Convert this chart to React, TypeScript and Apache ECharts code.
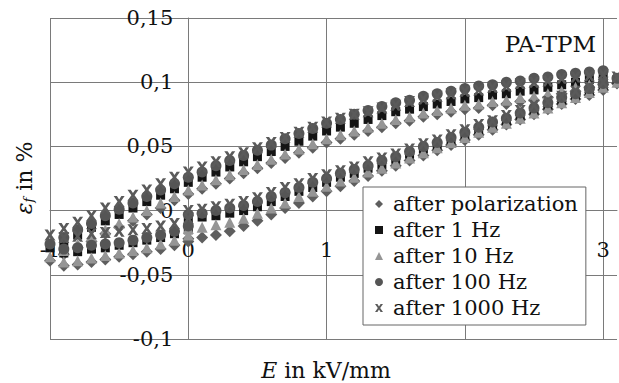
import React, { useEffect, useRef } from "react";
import * as echarts from "echarts";

// Electric field E in kV/mm for the three branches of each loop
const E_RISE = [0, 0.1, 0.2, 0.3, 0.4, 0.5, 0.6, 0.7, 0.8, 0.9, 1.0, 1.1, 1.2, 1.3, 1.4, 1.5, 1.6, 1.7, 1.8, 1.9, 2.0, 2.1, 2.2, 2.3, 2.4, 2.5, 2.6, 2.7, 2.8, 2.9, 3.0, 3.1];
const E_FALL = [3.0, 2.9, 2.8, 2.7, 2.6, 2.5, 2.4, 2.3, 2.2, 2.1, 2.0, 1.9, 1.8, 1.7, 1.6, 1.5, 1.4, 1.3, 1.2, 1.1, 1.0, 0.9, 0.8, 0.7, 0.6, 0.5, 0.4, 0.3, 0.2, 0.1, 0.0, -0.1, -0.2, -0.3, -0.4, -0.5, -0.6, -0.7, -0.8, -0.9, -1.0];
const E_RETURN = [-0.9, -0.8, -0.7, -0.6, -0.5, -0.4, -0.3, -0.2, -0.1, 0.0];

// after polarization (diamonds)
const POL_RISE = [-0.022, -0.021, -0.019, -0.016, -0.012, -0.008, -0.003, 0.002, 0.006, 0.011, 0.015, 0.019, 0.023, 0.027, 0.031, 0.035, 0.039, 0.043, 0.047, 0.051, 0.055, 0.059, 0.063, 0.067, 0.071, 0.075, 0.079, 0.083, 0.087, 0.090, 0.094, 0.099];
const POL_FALL = [0.098, 0.096, 0.093, 0.091, 0.088, 0.086, 0.085, 0.083, 0.082, 0.080, 0.079, 0.077, 0.075, 0.073, 0.070, 0.068, 0.065, 0.062, 0.059, 0.056, 0.053, 0.049, 0.045, 0.041, 0.037, 0.033, 0.029, 0.025, 0.021, 0.017, 0.013, 0.008, 0.002, -0.003, -0.008, -0.013, -0.018, -0.024, -0.029, -0.034, -0.039];
const POL_RETURN = [-0.043, -0.042, -0.040, -0.038, -0.036, -0.034, -0.032, -0.030, -0.027, -0.024];

// after 1 Hz (squares)
const HZ1_RISE = [-0.006, -0.005, -0.004, -0.002, 0.000, 0.003, 0.007, 0.011, 0.015, 0.018, 0.022, 0.026, 0.029, 0.033, 0.036, 0.040, 0.044, 0.048, 0.051, 0.055, 0.059, 0.063, 0.067, 0.070, 0.074, 0.078, 0.082, 0.086, 0.089, 0.093, 0.097, 0.102];
const HZ1_FALL = [0.104, 0.102, 0.100, 0.098, 0.096, 0.094, 0.093, 0.091, 0.090, 0.088, 0.087, 0.085, 0.083, 0.081, 0.079, 0.077, 0.074, 0.071, 0.068, 0.065, 0.062, 0.058, 0.054, 0.050, 0.046, 0.042, 0.038, 0.034, 0.030, 0.026, 0.022, 0.017, 0.012, 0.007, 0.002, -0.003, -0.008, -0.013, -0.019, -0.024, -0.029];
const HZ1_RETURN = [-0.033, -0.032, -0.030, -0.029, -0.027, -0.025, -0.023, -0.021, -0.018, -0.015];

// after 10 Hz (triangles)
const HZ10_RISE = [-0.014, -0.013, -0.011, -0.009, -0.006, -0.002, 0.002, 0.006, 0.011, 0.015, 0.019, 0.023, 0.026, 0.030, 0.033, 0.037, 0.041, 0.045, 0.049, 0.053, 0.057, 0.061, 0.065, 0.068, 0.072, 0.076, 0.080, 0.084, 0.088, 0.092, 0.096, 0.100];
const HZ10_FALL = [0.100, 0.098, 0.096, 0.093, 0.091, 0.089, 0.088, 0.086, 0.085, 0.083, 0.082, 0.080, 0.078, 0.076, 0.073, 0.071, 0.068, 0.065, 0.062, 0.059, 0.056, 0.052, 0.048, 0.044, 0.040, 0.036, 0.032, 0.028, 0.024, 0.020, 0.016, 0.011, 0.006, 0.000, -0.005, -0.010, -0.015, -0.020, -0.026, -0.031, -0.036];
const HZ10_RETURN = [-0.040, -0.039, -0.037, -0.035, -0.033, -0.031, -0.029, -0.026, -0.023, -0.019];

// after 100 Hz (circles)
const HZ100_RISE = [-0.003, -0.002, 0.000, 0.002, 0.004, 0.007, 0.011, 0.014, 0.018, 0.022, 0.025, 0.029, 0.032, 0.035, 0.039, 0.042, 0.046, 0.050, 0.053, 0.057, 0.061, 0.065, 0.069, 0.072, 0.076, 0.080, 0.084, 0.088, 0.091, 0.095, 0.099, 0.103];
const HZ100_FALL = [0.109, 0.108, 0.107, 0.106, 0.104, 0.103, 0.101, 0.100, 0.098, 0.097, 0.095, 0.093, 0.091, 0.089, 0.086, 0.084, 0.081, 0.078, 0.075, 0.071, 0.068, 0.064, 0.060, 0.056, 0.051, 0.047, 0.043, 0.039, 0.035, 0.030, 0.026, 0.021, 0.016, 0.011, 0.006, 0.001, -0.004, -0.010, -0.015, -0.021, -0.026];
const HZ100_RETURN = [-0.030, -0.029, -0.027, -0.026, -0.025, -0.023, -0.021, -0.019, -0.016, -0.012];

// after 1000 Hz (stars)
const HZ1000_RISE = [0.000, 0.001, 0.003, 0.005, 0.007, 0.010, 0.014, 0.018, 0.021, 0.025, 0.028, 0.031, 0.034, 0.038, 0.041, 0.044, 0.048, 0.052, 0.055, 0.059, 0.063, 0.067, 0.070, 0.074, 0.078, 0.082, 0.085, 0.089, 0.093, 0.096, 0.100, 0.104];
const HZ1000_FALL = [0.106, 0.105, 0.104, 0.103, 0.101, 0.100, 0.099, 0.097, 0.096, 0.094, 0.093, 0.091, 0.089, 0.087, 0.085, 0.082, 0.080, 0.077, 0.075, 0.072, 0.069, 0.065, 0.061, 0.057, 0.053, 0.049, 0.045, 0.042, 0.038, 0.034, 0.030, 0.026, 0.021, 0.016, 0.012, 0.007, 0.002, -0.004, -0.009, -0.014, -0.019];
const HZ1000_RETURN = [-0.021, -0.020, -0.018, -0.017, -0.016, -0.015, -0.014, -0.012, -0.010, -0.006];

const SERIES_NAMES = ["after polarization", "after 1 Hz", "after 10 Hz", "after 100 Hz", "after 1000 Hz"];
// the "2" tick label sits under the legend box in the source and is not visible
const X_TICK_LABELS = [-1, 0, 1, 3];
const X_MIN = -1;
const X_MAX = 3.1;
const Y_MIN = -0.1;
const Y_MAX = 0.15;

const STAR_PATH = "path://M0,0 L3,0 L5,3 L7,0 L10,0 L6.5,5 L10,10 L7,10 L5,7 L3,10 L0,10 L3.5,5 Z";

const FONT = "DejaVu Serif";

// grid geometry (pixels)
const GRID_LEFT = 50;
const GRID_RIGHT = 2;
const GRID_TOP = 18;
const GRID_BOTTOM = 44;
const W = 619;
const H = 383;

function loop(rise: number[], fall: number[], ret: number[]) {
  const pts: number[][] = [];
  E_RISE.forEach((e, i) => pts.push([e, rise[i]]));
  E_FALL.forEach((e, i) => pts.push([e, fall[i]]));
  E_RETURN.forEach((e, i) => pts.push([e, ret[i]]));
  return pts;
}

export default function App() {
  const ref = useRef<HTMLDivElement>(null);
  useEffect(() => {
    if (!ref.current) return;
    const chart = echarts.init(ref.current, null, { renderer: "svg" });
    const plotW = W - GRID_LEFT - GRID_RIGHT;
    const plotH = H - GRID_TOP - GRID_BOTTOM;
    // axes cross at the origin, as in the source chart
    const yAxisOffset = -((0 - X_MIN) / (X_MAX - X_MIN)) * plotW;
    const xAxisOffset = -((0 - Y_MIN) / (Y_MAX - Y_MIN)) * plotH;
    const styles = [
      { symbol: "diamond", size: 12, color: "#5e5e5e", data: loop(POL_RISE, POL_FALL, POL_RETURN) },
      { symbol: "rect", size: 9, color: "#141414", data: loop(HZ1_RISE, HZ1_FALL, HZ1_RETURN) },
      { symbol: "triangle", size: 11, color: "#959595", data: loop(HZ10_RISE, HZ10_FALL, HZ10_RETURN) },
      { symbol: "circle", size: 11, color: "#555555", data: loop(HZ100_RISE, HZ100_FALL, HZ100_RETURN) },
      { symbol: STAR_PATH, size: 11, color: "#5a5a5a", data: loop(HZ1000_RISE, HZ1000_FALL, HZ1000_RETURN) },
    ];
    chart.setOption({
      animation: false,
      textStyle: { fontFamily: FONT },
      grid: {
        left: GRID_LEFT,
        right: GRID_RIGHT,
        top: GRID_TOP,
        bottom: GRID_BOTTOM,
        containLabel: false,
        outerBoundsMode: "none",
      },
      xAxis: {
        type: "value",
        min: X_MIN,
        max: X_MAX,
        interval: 1,
        position: "bottom",
        offset: xAxisOffset,
        axisLine: { onZero: false, lineStyle: { color: "#7a7a7a", width: 1 } },
        axisTick: { show: false },
        axisLabel: {
          fontFamily: FONT,
          fontSize: 21,
          color: "#111",
          margin: 29,
          showMaxLabel: false,
          formatter: (v: number) => (X_TICK_LABELS.some((t) => Math.abs(t - v) < 1e-6) ? String(Math.round(v)) : ""),
        },
        splitLine: { show: true, showMaxLine: false, lineStyle: { color: "#7a7a7a", width: 1 } },
      },
      yAxis: {
        type: "value",
        min: Y_MIN,
        max: Y_MAX,
        interval: 0.05,
        position: "left",
        offset: yAxisOffset,
        axisLine: { onZero: false, lineStyle: { color: "#7a7a7a", width: 1 } },
        axisTick: { show: false },
        axisLabel: {
          fontFamily: FONT,
          fontSize: 21,
          color: "#111",
          margin: 15,
          formatter: (v: number) => String(Number(v.toFixed(2))).replace(".", ","),
        },
        splitLine: { show: true, lineStyle: { color: "#7a7a7a", width: 1 } },
      },
      legend: {
        orient: "vertical",
        left: 363,
        top: 187,
        backgroundColor: "#ffffff",
        borderColor: "#666666",
        borderWidth: 1,
        borderRadius: 0,
        padding: [4, 8, 4, 12],
        itemGap: 0,
        itemWidth: 8,
        itemHeight: 8,
        textStyle: { fontFamily: FONT, fontSize: 21, color: "#111", lineHeight: 26, padding: [0, 0, 0, 5] },
        data: SERIES_NAMES,
      },
      graphic: [
        {
          type: "text",
          x: 596,
          y: 44,
          style: {
            text: "PA-TPM",
            fontFamily: FONT,
            fontSize: 23,
            fill: "#111",
            textAlign: "right",
            textVerticalAlign: "middle",
          },
        },
        {
          type: "text",
          x: 326,
          y: 370,
          style: {
            text: "{i|E}{n| in kV/mm}",
            fontFamily: FONT,
            fontSize: 22,
            textAlign: "center",
            textVerticalAlign: "middle",
            fill: "#111",
            rich: {
              i: { fontFamily: FONT, fontSize: 22, fontStyle: "italic", fill: "#111" },
              n: { fontFamily: FONT, fontSize: 22, fill: "#111" },
            },
          },
        },
        {
          type: "text",
          x: 24,
          y: 178,
          rotation: Math.PI / 2,
          style: {
            text: "{e|ε}{s|f}{n| in %}",
            fontFamily: FONT,
            fontSize: 22,
            textAlign: "center",
            textVerticalAlign: "middle",
            fill: "#111",
            rich: {
              e: { fontFamily: FONT, fontSize: 22, fontStyle: "italic", fill: "#111" },
              s: { fontFamily: FONT, fontSize: 13, fontStyle: "italic", fill: "#111", verticalAlign: "bottom", padding: [8, 0, 0, 0] },
              n: { fontFamily: FONT, fontSize: 22, fill: "#111" },
            },
          },
        },
      ],
      series: styles.map((s, i) => ({
        name: SERIES_NAMES[i],
        type: "scatter",
        symbol: s.symbol,
        symbolSize: s.size,
        itemStyle: { color: s.color, opacity: 1 },
        data: s.data,
        z: 2 + i * 0.01,
      })),
    });
    return () => chart.dispose();
  }, []);
  return <div ref={ref} style={{ position: "absolute", left: 0, top: 0, width: W, height: H }} />;
}
